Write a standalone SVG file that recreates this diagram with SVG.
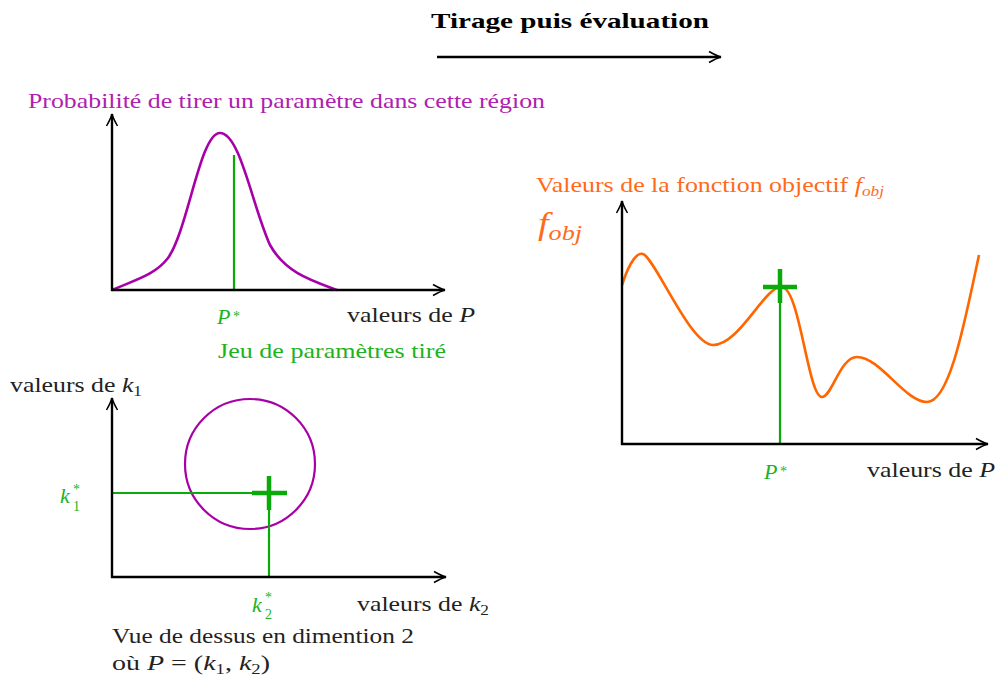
<svg xmlns="http://www.w3.org/2000/svg" width="997" height="679" viewBox="0 0 997 679">
<defs>
<marker id="arr" viewBox="-13 -7 15 14" markerWidth="15" markerHeight="14" refX="0" refY="0" orient="auto" markerUnits="userSpaceOnUse">
<path d="M-12,-5.5 Q-4,-1 0,0 Q-4,1 -12,5.5" fill="none" stroke="#000" stroke-width="1.5"/>
</marker>
<style>
text{font-family:"Liberation Serif","DejaVu Serif",serif;font-size:21px;fill:#222}
.mag{fill:#B020B0}
.grn{fill:#1DB31D}
.org{fill:#FF6A1A}
.it{font-style:italic}
.sm{font-size:14px}
.big{font-size:22px}
.axis{stroke:#000;stroke-width:2.4;fill:none}
.gl{stroke:#0AAA0A;stroke-width:2.2;fill:none}
.cross{stroke:#0AAA0A;stroke-width:4.5;fill:none}
</style>
</defs>
<g id="title">
<text x="570" y="28" text-anchor="middle" font-weight="bold" textLength="278" lengthAdjust="spacingAndGlyphs" style="fill:#000;font-size:22px">Tirage puis évaluation</text>
</g>
<g id="plot1">
<text class="mag" x="28" y="108" textLength="517" lengthAdjust="spacingAndGlyphs">Probabilité de tirer un paramètre dans cette région</text>
<line class="gl" x1="234" y1="155" x2="234" y2="290"/>
<path d="M112,290 C135,280 155,275 168,258 C188,230 200,133 220,133 C240,133 252,205 270,245 C285,272 310,280 337,290" fill="none" stroke="#A800A8" stroke-width="2.6"/>
<text class="grn it big" x="217" y="324">P</text>
<text class="grn sm" x="233" y="321">*</text>
<text x="347" y="322" textLength="128" lengthAdjust="spacingAndGlyphs">valeurs de <tspan class="it">P</tspan></text>
<text class="grn" x="218" y="358" textLength="228" lengthAdjust="spacingAndGlyphs">Jeu de paramètres tiré</text>
</g>
<g id="plot2">
<text x="10" y="392" textLength="132" lengthAdjust="spacingAndGlyphs">valeurs de <tspan class="it">k</tspan><tspan class="sm" dy="4">1</tspan></text>
<circle cx="250" cy="464" r="65" fill="none" stroke="#A800A8" stroke-width="2.2"/>
<line class="gl" x1="112" y1="493" x2="269" y2="493"/>
<line class="gl" x1="269" y1="493" x2="269" y2="577"/>
<path class="cross" d="M252,493 H287 M269,476 V510"/>
<text class="grn it big" x="60" y="503">k</text>
<text class="grn sm" x="73" y="494">*<tspan x="73" dy="17">1</tspan></text>
<text class="grn it big" x="252" y="612">k</text>
<text class="grn sm" x="265" y="602">*<tspan x="265" dy="17">2</tspan></text>
<text x="357" y="611" textLength="132" lengthAdjust="spacingAndGlyphs">valeurs de <tspan class="it">k</tspan><tspan class="sm" dy="4">2</tspan></text>
<text x="112" y="643" textLength="302" lengthAdjust="spacingAndGlyphs">Vue de dessus en dimention 2</text>
<text x="112" y="670" textLength="158" lengthAdjust="spacingAndGlyphs">où <tspan class="it">P</tspan> = (<tspan class="it">k</tspan><tspan class="sm" dy="4">1</tspan><tspan dy="-4">, </tspan><tspan class="it">k</tspan><tspan class="sm" dy="4">2</tspan><tspan dy="-4">)</tspan></text>
</g>
<g id="plot3">
<text class="org" x="536" y="192" textLength="348" lengthAdjust="spacingAndGlyphs">Valeurs de la fonction objectif <tspan class="it">f</tspan><tspan class="it sm" dy="4">obj</tspan></text>
<text class="org it" x="538" y="234" textLength="44" lengthAdjust="spacingAndGlyphs" style="font-size:32px">f<tspan style="font-size:22px" dy="6">obj</tspan></text>
<line class="gl" x1="780" y1="287" x2="780" y2="444"/>
<path d="M622,285 C630,260 638,252 643,254 C655,258 690,345 713,345 C740,345 765,285 782,287 C800,289 808,397 822,397 C832,397 840,357 857,357 C880,357 905,402 927,402 C950,402 965,320 979,255" fill="none" stroke="#FF6600" stroke-width="2.6"/>
<path class="cross" d="M763,287 H797 M780,269 V303"/>
<text class="grn it big" x="764" y="479">P</text>
<text class="grn sm" x="780" y="476">*</text>
<text x="867" y="477" textLength="128" lengthAdjust="spacingAndGlyphs">valeurs de <tspan class="it">P</tspan></text>
</g>
<g id="connectors">
<line x1="437" y1="57" x2="721" y2="57" stroke="#000" stroke-width="2.4" marker-end="url(#arr)"/>
<line class="axis" x1="112" y1="291" x2="112" y2="114" marker-end="url(#arr)"/>
<line class="axis" x1="111" y1="290" x2="445" y2="290" marker-end="url(#arr)"/>
<line class="axis" x1="112" y1="578" x2="112" y2="398" marker-end="url(#arr)"/>
<line class="axis" x1="111" y1="577" x2="446" y2="577" marker-end="url(#arr)"/>
<line class="axis" x1="622" y1="445" x2="622" y2="201" marker-end="url(#arr)"/>
<line class="axis" x1="621" y1="444" x2="988" y2="444" marker-end="url(#arr)"/>
</g>
</svg>
